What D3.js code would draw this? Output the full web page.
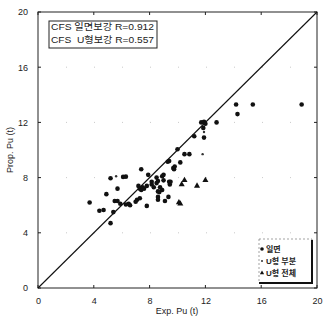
<!DOCTYPE html>
<html>
<head>
<meta charset="utf-8">
<script src="https://cdn.jsdelivr.net/npm/d3@7"></script>
<style>
  html, body { margin: 0; padding: 0; background: #fff; }
  svg { display: block; }
  text { font-family: "Liberation Sans", "Noto Sans CJK KR", sans-serif; fill: #222; }
</style>
</head>
<body>
<svg id="chart" width="323" height="323"></svg>
<script>
(function () {
// ---- data ----
const xTicks = [0, 4, 8, 12, 16, 20];
const yTicks = [0, 4, 8, 12, 16, 20];

// 일면 (one-side strengthening)
const oneX = [14.2, 15.4, 18.9, 14.3, 11.7, 11.9, 12.0, 12.8, 11.85, 11.2, 11.9, 10.0, 10.5, 10.85,
  9.4, 10.2, 9.7, 9.75, 8.9, 8.5, 9.4, 9.45, 8.15, 8.3, 8.5, 8.6, 8.9, 8.6, 9.1,
  5.2, 6.1, 6.3, 7.4, 5.7, 4.9, 3.7, 5.5, 5.7, 6.3, 6.6, 7.1, 7.3, 7.8, 7.3, 7.4, 7.5, 7.6, 7.8, 7.2,
  8.15, 8.6, 9.0, 8.7, 4.4, 4.7, 5.4, 5.2, 7.9, 9.0, 9.8, 9.3, 9.5, 8.75, 9.35, 6.5, 7.0, 5.9, 8.6];
const oneY = [13.3, 13.3, 13.3, 12.6, 12.0, 12.05, 11.9, 12.0, 11.6, 11.0, 10.9, 10.05, 9.7, 9.7,
  9.2, 9.1, 8.7, 8.6, 8.1, 8.0, 7.7, 7.5, 7.5, 7.3, 7.6, 7.0, 7.1, 6.6, 6.3,
  7.95, 8.05, 8.07, 8.6, 7.2, 6.8, 6.2, 6.3, 6.3, 6.05, 6.0, 6.4, 6.5, 5.95, 7.2, 7.1, 7.3, 7.2, 7.4, 7.4,
  7.7, 7.75, 7.8, 6.95, 5.6, 5.65, 5.5, 4.7, 8.2, 8.2, 8.8, 9.15, 7.7, 7.3, 6.6, 6.1, 6.25, 6.1, 6.4];

// U형 부분 (U-type partial)
const partX = [11.8, 5.6, 11.9];
const partY = [9.7, 8.1, 11.3];

// U형 전체 (U-type full)
const fullX = [12.0, 11.4, 10.5, 10.2, 10.1, 10.3];
const fullY = [7.8, 7.4, 7.8, 6.1, 6.2, 7.5];

const legendTop = ["CFS 일면보강 R=0.912", "CFS  U형보강 R=0.557"];
const legendNames = ["일면", "U형 부분", "U형 전체"];

// ---- layout ----
const svg = d3.select("#chart");
const mLeft = 38, mRight = 317, mTop = 12, mBottom = 288;
const x = d3.scaleLinear().domain([0, 20]).range([mLeft, mRight]);
const y = d3.scaleLinear().domain([0, 20]).range([mBottom, mTop]);

// faint dotted gridlines
const g = svg.append("g");
yTicks.slice(1, -1).forEach(t => {
  g.append("line").attr("x1", mLeft).attr("x2", mRight).attr("y1", y(t)).attr("y2", y(t))
    .attr("stroke", "#bbb").attr("stroke-width", 0.8).attr("stroke-dasharray", "1 27");
});

// axes
const xAxis = d3.axisBottom(x).tickValues(xTicks).tickSize(0).tickPadding(10).tickFormat(d3.format("d"));
const yAxis = d3.axisLeft(y).tickValues(yTicks).tickSize(0).tickPadding(10).tickFormat(d3.format("d"));
const gx = svg.append("g").attr("transform", `translate(0,${mBottom})`).call(xAxis);
const gy = svg.append("g").attr("transform", `translate(${mLeft},0)`).call(yAxis);
[gx, gy].forEach(a => {
  a.select(".domain").remove();
  a.selectAll("text").style("font-size", "9px").style("font-family", "Liberation Sans, sans-serif").attr("fill", "#222");
});

// inner tick marks
yTicks.forEach(t => {
  svg.append("line").attr("x1", mLeft).attr("x2", mLeft + 3).attr("y1", y(t)).attr("y2", y(t)).attr("stroke", "#222");
  svg.append("line").attr("x1", mRight).attr("x2", mRight - 3).attr("y1", y(t)).attr("y2", y(t)).attr("stroke", "#222");
});
xTicks.forEach(t => {
  svg.append("line").attr("x1", x(t)).attr("x2", x(t)).attr("y1", mBottom).attr("y2", mBottom - 3).attr("stroke", "#222");
  svg.append("line").attr("x1", x(t)).attr("x2", x(t)).attr("y1", mTop).attr("y2", mTop + 3).attr("stroke", "#222");
});

// frame
svg.append("rect").attr("x", mLeft).attr("y", mTop).attr("width", mRight - mLeft).attr("height", mBottom - mTop)
  .attr("fill", "none").attr("stroke", "#222").attr("stroke-width", 1);

// axis titles
svg.append("text").attr("x", 177).attr("y", 314).attr("text-anchor", "middle")
  .style("font-size", "9px").text("Exp. Pu (t)");
svg.append("text").attr("transform", `translate(13,${(mTop + mBottom) / 2}) rotate(-90)`)
  .attr("text-anchor", "middle").style("font-size", "9px").text("Prop. Pu (t)");

// diagonal
svg.append("line").attr("x1", x(0)).attr("y1", y(0)).attr("x2", x(20)).attr("y2", y(20))
  .attr("stroke", "#111").attr("stroke-width", 1.1);

// points
const one = oneX.map((v, i) => [v, oneY[i]]);
const part = partX.map((v, i) => [v, partY[i]]);
const full = fullX.map((v, i) => [v, fullY[i]]);
svg.append("g").selectAll("circle").data(one).join("circle")
  .attr("cx", d => x(d[0])).attr("cy", d => y(d[1])).attr("r", 2.3).attr("fill", "#111");
svg.append("g").selectAll("circle").data(part).join("circle")
  .attr("cx", d => x(d[0])).attr("cy", d => y(d[1])).attr("r", 1.2).attr("fill", "#333");
const tri = d3.symbol().type(d3.symbolTriangle).size(16);
svg.append("g").selectAll("path").data(full).join("path")
  .attr("transform", d => `translate(${x(d[0])},${y(d[1])})`).attr("d", tri).attr("fill", "#111");

// top-left legend box
svg.append("rect").attr("x", 49).attr("y", 21).attr("width", 108).attr("height", 27)
  .attr("fill", "#fff").attr("stroke", "#222").attr("stroke-width", 1);
legendTop.forEach((t, i) => {
  svg.append("text").attr("x", 51).attr("y", 30 + i * 13).style("font-size", "9.5px")
    .attr("textLength", 103).attr("lengthAdjust", "spacingAndGlyphs")
    .style("white-space", "pre").text(t);
});

// bottom-right legend with shadow
svg.append("rect").attr("x", 259).attr("y", 239).attr("width", 53).attr("height", 44)
  .attr("fill", "#fff").attr("stroke", "#666").attr("stroke-width", 0.6).attr("stroke-dasharray", "2 2");
svg.append("path").attr("d", "M312,240 V283 H259").attr("fill", "none").attr("stroke", "#111").attr("stroke-width", 2);
const lg = svg.append("g");
legendNames.forEach((n, i) => {
  const yy = 249 + i * 12;
  if (i === 0) lg.append("circle").attr("cx", 262).attr("cy", yy).attr("r", 1.8).attr("fill", "#111");
  else if (i === 1) lg.append("circle").attr("cx", 262).attr("cy", yy).attr("r", 1).attr("fill", "#333");
  else lg.append("path").attr("transform", `translate(262,${yy})`).attr("d", d3.symbol().type(d3.symbolTriangle).size(8)).attr("fill", "#111");
  lg.append("text").attr("x", 266).attr("y", yy + 3).style("font-size", "8px").style("font-weight", "bold").text(n);
});
})();
</script>
</body>
</html>
